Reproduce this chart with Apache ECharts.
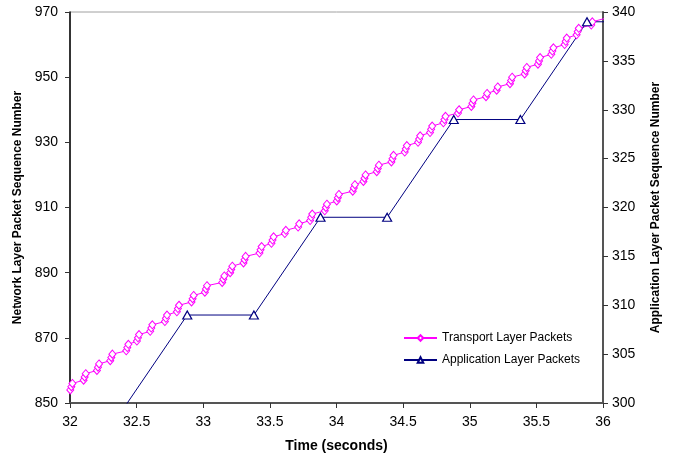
<!DOCTYPE html>
<html>
<head>
<meta charset="utf-8">
<script src="https://cdn.jsdelivr.net/npm/echarts@6/dist/echarts.min.js"></script>
<style>
  html, body { margin: 0; padding: 0; background: #fff; }
  #chart { width: 673px; height: 458px; }
</style>
</head>
<body>
<div id="chart"></div>
<script>
// transport layer packets: time (s) and network layer sequence number
var transportTime = [
  32.002, 32.010, 32.018,  32.102, 32.110, 32.118,  32.202, 32.210, 32.218,
  32.302, 32.310, 32.318,  32.422, 32.430, 32.438,  32.502, 32.510, 32.518,
  32.602, 32.610, 32.618,  32.712, 32.720, 32.728,  32.802, 32.810, 32.818,
  32.912, 32.920, 32.928,  33.012, 33.020, 33.028,  33.142, 33.150, 33.158,
  33.202, 33.210, 33.218,  33.302, 33.310, 33.318,  33.422, 33.430, 33.438,
  33.512, 33.520, 33.528,  33.612, 33.620,          33.712, 33.720,
  33.802, 33.810, 33.818,  33.912, 33.920, 33.928,  34.002, 34.010, 34.018,
  34.122, 34.130, 34.138,  34.202, 34.210, 34.218,  34.302, 34.310, 34.318,
  34.412, 34.420, 34.428,  34.512, 34.520, 34.528,  34.612, 34.620, 34.628,
  34.702, 34.710, 34.718,  34.802, 34.810, 34.818,  34.912, 34.920,
  35.012, 35.020, 35.028,  35.122, 35.130,          35.202, 35.210,
  35.302, 35.310, 35.318,  35.412, 35.420, 35.428,  35.512, 35.520, 35.528,
  35.612, 35.620, 35.628,  35.712, 35.720, 35.728,  35.802, 35.810, 35.818,
  35.912, 35.920,          36.012, 36.020, 36.028
];
var transportSeq = [
  854, 855, 856,  857, 858, 859,  860, 861, 862,
  863, 864, 865,  866, 867, 868,  869, 870, 871,
  872, 873, 874,  875, 876, 877,  878, 879, 880,
  881, 882, 883,  884, 885, 886,  887, 888, 889,
  890, 891, 892,  893, 894, 895,  896, 897, 898,
  899, 900, 901,  902, 903,       904, 905,
  906, 907, 908,  909, 910, 911,  912, 913, 914,
  915, 916, 917,  918, 919, 920,  921, 922, 923,
  924, 925, 926,  927, 928, 929,  930, 931, 932,
  933, 934, 935,  936, 937, 938,  939, 940,
  941, 942, 943,  944, 945,       946, 947,
  948, 949, 950,  951, 952, 953,  954, 955, 956,
  957, 958, 959,  960, 961, 962,  963, 964, 965,
  966, 967,       968, 969, 970
];

// application layer packets: time (s) and application sequence number
var appTime = [32.38, 32.88, 33.38, 33.88, 34.38, 34.88, 35.38, 35.88, 36.38];
var appSeq  = [299, 309, 309, 319, 319, 329, 329, 339, 339];

var seriesNames = ['Transport Layer Packets', 'Application Layer Packets'];

function pairs(xs, ys) {
  var out = [];
  for (var i = 0; i < xs.length; i++) out.push([xs[i], ys[i]]);
  return out;
}

var chart = echarts.init(document.getElementById('chart'));
var font = 'Liberation Sans, Arial, sans-serif';

var option = {
  backgroundColor: '#ffffff',
  animation: false,
  textStyle: { fontFamily: font },
  grid: {
    left: 70, right: 70, top: 12, bottom: 53,
    show: true, borderColor: '#a0a0a0', borderWidth: 1
  },
  legend: {
    orient: 'vertical',
    left: 398, top: 327,
    itemWidth: 33, itemHeight: 7, itemGap: 10,
    textStyle: { fontSize: 12, color: '#000', fontFamily: font },
    data: seriesNames
  },
  xAxis: {
    type: 'value', min: 32, max: 36, interval: 0.5,
    name: 'Time (seconds)', nameLocation: 'middle', nameGap: 36,
    nameTextStyle: { fontSize: 14, fontWeight: 'bold', color: '#000' },
    axisLine: { lineStyle: { color: '#555', width: 2 } },
    axisTick: { length: 5, lineStyle: { color: '#333' } },
    axisLabel: { fontSize: 14, color: '#000', margin: 12 },
    splitLine: { show: false }
  },
  yAxis: [{
    type: 'value', min: 850, max: 970, interval: 20,
    name: 'Network Layer Packet Sequence Number', nameLocation: 'middle',
    nameGap: 44, nameRotate: 90,
    nameTextStyle: { fontSize: 12, fontWeight: 'bold', color: '#000' },
    axisLine: { show: true, lineStyle: { color: '#000', width: 1.5 } },
    axisTick: { show: true, length: 5, lineStyle: { color: '#333' } },
    axisLabel: { fontSize: 14, color: '#000', margin: 12 },
    splitLine: { show: false }
  }, {
    type: 'value', min: 300, max: 340, interval: 5, position: 'right',
    name: 'Application Layer Packet Sequence Number', nameLocation: 'middle',
    nameGap: 47, nameRotate: 90,
    nameTextStyle: { fontSize: 12, fontWeight: 'bold', color: '#000' },
    axisLine: { show: true, lineStyle: { color: '#555', width: 2 } },
    axisTick: { show: true, length: 5, lineStyle: { color: '#333' } },
    axisLabel: { fontSize: 14, color: '#000', margin: 9 },
    splitLine: { show: false }
  }],
  series: [{
    name: seriesNames[0],
    type: 'line',
    yAxisIndex: 0,
    data: pairs(transportTime, transportSeq),
    symbol: 'diamond', symbolSize: [7, 8],
    lineStyle: { color: '#ff00ff', width: 1 },
    itemStyle: { color: '#ffffff', borderColor: '#ff00ff', borderWidth: 1 },
    clip: true
  }, {
    name: seriesNames[1],
    type: 'line',
    yAxisIndex: 1,
    data: pairs(appTime, appSeq),
    symbol: 'triangle', symbolSize: [9, 8],
    lineStyle: { color: '#000080', width: 1 },
    itemStyle: { color: '#ffffff', borderColor: '#000080', borderWidth: 1.2 },
    clip: true
  }]
};

chart.setOption(option);
</script>
</body>
</html>
